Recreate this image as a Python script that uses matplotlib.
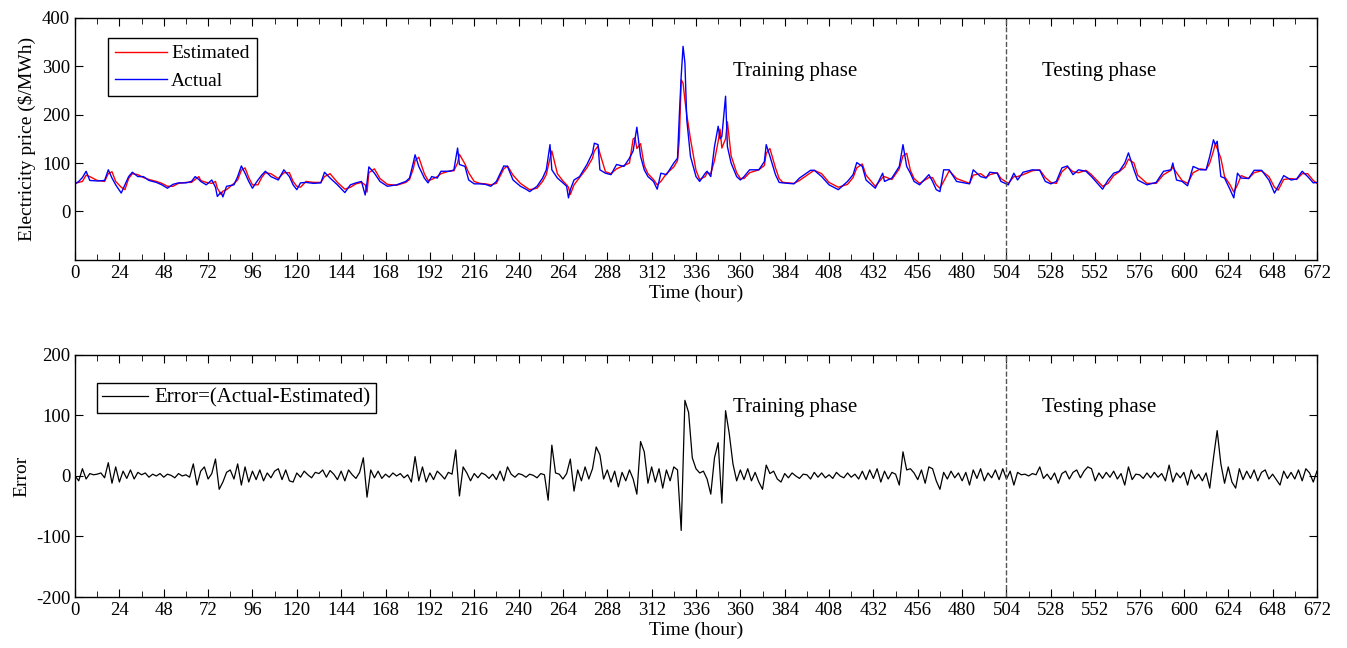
import numpy as np
import matplotlib.pyplot as plt

plt.rcParams['font.family'] = ['Liberation Serif', 'DejaVu Serif']
plt.rcParams['axes.unicode_minus'] = False

hours = [0, 2, 4, 6, 8, 12, 16, 18, 20, 22, 25, 27, 29, 31, 34, 37, 40, 44, 47, 50,
         53, 56, 60, 63, 65, 67, 68, 71, 74, 76, 77, 79, 80, 82, 86, 88, 90, 92, 94, 96,
         99, 101, 103, 106, 110, 113, 116, 118, 120, 122, 125, 129, 133, 135, 138, 142, 146, 149, 152, 155,
         157, 158, 159, 162, 165, 169, 174, 179, 181, 183, 184, 186, 189, 191, 193, 196, 198, 203, 205, 207,
         208, 211, 213, 216, 219, 222, 225, 228, 232, 234, 237, 241, 244, 246, 250, 253, 255, 257, 258, 261,
         264, 266, 267, 268, 270, 273, 277, 280, 281, 283, 284, 287, 290, 293, 297, 300, 302, 303, 304, 306,
         308, 310, 313, 315, 317, 320, 324, 326, 327, 328, 329, 330, 331, 333, 336, 338, 341, 342, 344, 346,
         348, 349, 350, 352, 353, 355, 358, 360, 362, 365, 370, 373, 374, 376, 379, 381, 383, 389, 392, 398,
         400, 404, 408, 413, 418, 421, 423, 426, 428, 433, 437, 438, 442, 446, 448, 450, 452, 454, 457, 462,
         464, 466, 468, 470, 473, 477, 484, 486, 490, 493, 495, 499, 501, 505, 508, 510, 513, 518, 522, 525,
         528, 531, 534, 537, 540, 543, 547, 550, 553, 556, 559, 562, 565, 568, 570, 573, 575, 580, 585, 589,
         593, 594, 596, 599, 602, 605, 609, 612, 614, 616, 617, 618, 620, 622, 625, 627, 629, 631, 635, 638,
         642, 646, 649, 651, 654, 658, 661, 664, 667, 670, 672]

actual = [57, 62, 70, 83, 64, 63, 64, 86, 69, 55, 38, 55, 72, 81, 72, 72, 64, 60, 55, 48,
          56, 59, 59, 62, 72, 66, 62, 55, 65, 50, 31, 40, 30, 52, 55, 72, 94, 79, 62, 48,
          65, 75, 83, 72, 65, 86, 72, 55, 45, 59, 60, 58, 59, 81, 69, 55, 39, 55, 59, 62,
          34, 60, 92, 79, 62, 52, 55, 62, 69, 100, 117, 93, 69, 59, 72, 69, 83, 83, 86, 131,
          97, 93, 65, 57, 57, 56, 52, 62, 94, 93, 65, 52, 46, 41, 52, 69, 86, 138, 86, 69,
          59, 52, 28, 45, 65, 72, 97, 121, 141, 138, 86, 79, 76, 97, 93, 110, 125, 150, 174, 114,
          86, 72, 62, 46, 79, 76, 100, 110, 200, 280, 341, 307, 190, 114, 72, 62, 79, 83, 72, 134,
          176, 150, 155, 238, 134, 100, 72, 65, 72, 86, 86, 103, 138, 114, 76, 60, 59, 57, 69, 85,
          85, 72, 55, 45, 62, 76, 101, 93, 65, 48, 79, 62, 69, 93, 138, 93, 79, 62, 55, 76,
          62, 45, 41, 86, 86, 62, 57, 86, 72, 69, 81, 79, 62, 55, 79, 65, 81, 86, 85, 62,
          57, 62, 90, 94, 76, 86, 83, 72, 59, 46, 65, 79, 83, 100, 121, 86, 65, 55, 60, 83,
          86, 100, 65, 62, 53, 93, 86, 86, 114, 148, 138, 145, 72, 69, 45, 28, 79, 69, 68, 85,
          85, 65, 38, 52, 74, 65, 67, 83, 72, 59, 60]

estimated = [58, 60, 62, 75, 72, 64, 62, 78, 82, 62, 50, 45, 68, 78, 76, 70, 66, 62, 58, 52,
             52, 58, 60, 60, 66, 72, 64, 60, 58, 62, 48, 35, 42, 45, 58, 65, 85, 90, 70, 55,
             55, 70, 80, 78, 68, 80, 80, 62, 52, 50, 62, 60, 60, 72, 78, 60, 46, 50, 57, 60,
             55, 40, 80, 88, 68, 56, 54, 60, 66, 88, 105, 112, 78, 64, 66, 72, 78, 84, 84, 100,
             118, 98, 80, 62, 58, 57, 55, 58, 88, 94, 75, 58, 50, 45, 48, 62, 76, 110, 125, 78,
             63, 55, 50, 35, 55, 70, 90, 110, 125, 135, 120, 82, 78, 88, 95, 100, 150, 152, 130, 140,
             95, 78, 66, 55, 62, 78, 92, 105, 150, 272, 265, 230, 200, 150, 85, 66, 72, 80, 78, 105,
             145, 170, 131, 150, 185, 115, 80, 68, 68, 80, 86, 95, 120, 130, 90, 68, 60, 58, 64, 80,
             85, 78, 60, 50, 56, 70, 90, 98, 75, 52, 70, 72, 66, 88, 115, 120, 85, 68, 58, 70,
             70, 55, 48, 62, 84, 68, 58, 75, 78, 70, 76, 80, 68, 58, 72, 72, 76, 84, 86, 70,
             60, 58, 82, 92, 82, 80, 85, 76, 64, 52, 58, 74, 82, 92, 108, 100, 75, 58, 58, 76,
             85, 92, 80, 64, 58, 80, 88, 86, 100, 125, 140, 130, 110, 72, 55, 40, 55, 74, 68, 80,
             84, 72, 50, 44, 66, 68, 66, 78, 78, 64, 58]

# Error = Actual - Estimated, read every 2 hours
err_hours = list(range(0, 673, 2))
error = [0, -8, 12, -5, 4, 2, 3, 5, -3, 22, -12, 15,
         -10, 8, -4, 10, -5, 6, 2, 5, -2, 3, 0, 4,
         -2, 3, 1, -3, 4, 0, 2, -2, 20, -15, 8, 15,
         -5, 4, 28, -22, -10, 6, 10, -5, 20, -15, 15, -10,
         8, -6, 10, -8, 5, -3, 8, 12, -6, 10, -8, -10,
         5, -2, 8, 2, -3, 6, 4, 10, -2, 9, 3, -6,
         8, -8, 10, 2, -4, 6, 30, -35, 10, -3, 8, -4,
         3, -2, 5, 0, 4, -3, 2, -10, 32, -8, 15, -10,
         5, -6, 8, 2, -5, 6, 3, 43, -33, 15, 5, -8,
         4, -3, 5, 2, -4, 3, -6, 8, -8, 15, 3, -2,
         4, 2, -2, 3, 1, -3, 4, 2, -40, 51, 5, 3,
         -5, 4, 28, -25, 10, -8, 15, -5, 12, 48, 35, -5,
         10, -10, 8, -18, 6, -8, 10, -5, -30, 57, 40, -12,
         15, -10, 12, -20, 10, -8, 15, 10, -90, 125, 105, 30,
         12, 5, 8, -5, -30, 30, 55, -45, 108, 70, 20, -8,
         10, -6, 12, -8, 6, -10, -22, 18, 4, 8, -5, -10,
         4, -3, 5, 0, -4, 3, 2, -5, 6, -2, 5, -3,
         2, -4, 6, 0, -3, 5, -2, 3, -5, 8, -6, 10,
         -4, 12, -10, 8, -5, 6, 3, -15, 40, 10, 12, 5,
         -6, 10, -12, 15, 12, -8, -22, 6, -5, 8, -3, 5,
         -8, 6, -15, 10, -4, 12, -8, 5, -3, 10, -6, 12,
         -5, 8, -15, 6, 2, 3, 0, 4, 2, 15, -4, 3,
         -6, 5, -12, 4, 8, -5, 6, 10, -3, 8, 15, 12,
         -8, 5, -4, 6, -2, 8, -5, 4, -15, 15, -6, 3,
         2, -4, 5, -3, 6, -2, 4, -8, 18, -10, 5, -3,
         6, -15, 10, -5, 3, -8, 5, -20, 30, 75, 20, -12,
         15, -10, -20, 12, -6, 8, -4, 10, -8, 6, 10, -5,
         3, -6, -15, 8, -4, 6, -5, 10, -8, 12, 5, -10,
         8]

split_hour = 504
xticks = np.arange(0, 673, 24)

fig = plt.figure(figsize=(13.47, 6.48), dpi=100)
ax1 = fig.add_axes([0.0557, 0.599, 0.922, 0.3735])
ax2 = fig.add_axes([0.0557, 0.0787, 0.922, 0.3735])

# Top panel: prices
ax1.plot(hours, estimated, color='red', lw=1.0, label='Estimated')
ax1.plot(hours, actual, color='blue', lw=1.0, label='Actual')
ax1.axvline(split_hour, color='#555555', ls='--', lw=1.0)
ax1.set_xlim(0, 672)
ax1.set_ylim(-100, 400)
ax1.set_yticks([0, 100, 200, 300, 400])
ax1.set_ylabel('Electricity price (\\$/MWh)', fontsize=14)
ax1.set_xlabel('Time (hour)', fontsize=14, labelpad=2)
ax1.text(356, 290, 'Training phase', fontsize=15, va='center')
ax1.text(523, 290, 'Testing phase', fontsize=15, va='center')
leg1 = ax1.legend(loc='upper left', bbox_to_anchor=(0.0266, 0.917), borderaxespad=0,
                  fontsize=14, fancybox=False, edgecolor='black', framealpha=1,
                  handlelength=2.7, handletextpad=0.2, borderpad=0.35, labelspacing=0.5)
leg1.get_frame().set_linewidth(1.0)

# Bottom panel: error
ax2.plot(err_hours, error, color='black', lw=0.9, label='Error=(Actual-Estimated)')
ax2.axvline(split_hour, color='#555555', ls='--', lw=1.0)
ax2.set_xlim(0, 672)
ax2.set_ylim(-200, 200)
ax2.set_yticks([-200, -100, 0, 100, 200])
ax2.set_ylabel('Error', fontsize=14)
ax2.set_xlabel('Time (hour)', fontsize=14, labelpad=2)
ax2.text(356, 114, 'Training phase', fontsize=15, va='center')
ax2.text(523, 114, 'Testing phase', fontsize=15, va='center')
leg2 = ax2.legend(loc='upper left', bbox_to_anchor=(0.0177, 0.884), borderaxespad=0,
                  fontsize=15, fancybox=False, edgecolor='black', framealpha=1,
                  handlelength=2.2, handletextpad=0.3, borderpad=0.25)
leg2.get_frame().set_linewidth(1.0)

for ax in (ax1, ax2):
    ax.set_xticks(xticks)
    ax.set_xticks(np.arange(12, 672, 24), minor=True)
    ax.tick_params(which='both', direction='in', top=True, right=True, labelsize=13.5)
    ax.tick_params(which='major', length=6)
    ax.tick_params(which='minor', length=4)
    for s in ax.spines.values():
        s.set_linewidth(1.0)

fig.savefig('out.png', dpi=100)
